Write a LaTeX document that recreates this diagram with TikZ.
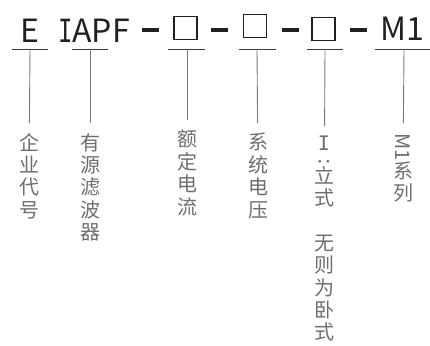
\documentclass[tikz,border=0pt]{standalone}
\usepackage{fontspec}
\setmainfont{Noto Sans CJK SC}
\newfontfamily\slabI{DejaVu Sans Mono}
\definecolor{codeink}{HTML}{231F20}
\definecolor{ulinegray}{HTML}{3C3C3C}
\definecolor{stemgray}{HTML}{7A7A7A}
\definecolor{labelgray}{HTML}{6E6E6E}

\tikzstyle{codepart} = [text=codeink, font=\fontsize{32}{32}\selectfont, inner sep=0pt, anchor=base]
\tikzstyle{dashbar} = [fill=codeink, minimum width=17pt, minimum height=4pt, inner sep=0pt]
\tikzstyle{slot} = [draw=codeink, line width=1.2pt, minimum size=23pt, inner sep=0pt]
\tikzstyle{vlabel} = [text=labelgray, font=\fontsize{20}{22.4}\selectfont, align=center, anchor=north, inner sep=0pt]
\tikzstyle{uline} = [draw=ulinegray, line width=1pt]
\tikzstyle{stem} = [draw=stemgray, line width=0.9pt, shorten >=10pt]

\begin{document}
\begin{tikzpicture}[x=1pt, y=-1pt]
    \useasboundingbox (0,0) rectangle (430,345);
    % model code
	\node (Firm) [codepart] at (30,42) {E};
	\node (Type) [codepart] at (94,42) {\scalebox{0.75}[1]{\slabI I}APF};
	\node (Dash1) [dashbar] at (150,30) {};
	\node (Current) [slot] at (185.5,28) {};
	\node (Dash2) [dashbar] at (219,30) {};
	\node (Voltage) [slot] at (255,26) {};
	\node (Dash3) [dashbar] at (290.5,30) {};
	\node (Mount) [slot] at (323.5,29) {};
	\node (Dash4) [dashbar] at (358,30) {};
	\node (Series) [codepart] at (402,41) {M1};
    % underlines
	\coordinate (uFirm) at (30,49);
	\coordinate (uType) at (90,49);
	\coordinate (uCurrent) at (187,49);
	\coordinate (uVoltage) at (257,49);
	\coordinate (uMount) at (325,49);
	\coordinate (uSeries) at (404,49);
	\draw [uline] ([xshift=-18pt]uFirm) -- ([xshift=18pt]uFirm);
	\draw [uline] ([xshift=-18pt]uType) -- ([xshift=18pt]uType);
	\draw [uline] ([xshift=-19pt]uCurrent) -- ([xshift=18pt]uCurrent);
	\draw [uline] ([xshift=-18pt]uVoltage) -- ([xshift=19pt]uVoltage);
	\draw [uline] ([xshift=-18pt]uMount) -- ([xshift=18pt]uMount);
	\draw [uline] ([xshift=-29pt]uSeries) -- ([xshift=26pt]uSeries);
    % vertical labels
	\node (lFirm) [vlabel] at (29,133) {企\\业\\代\\号};
	\node (lType) [vlabel] at (90,133) {有\\源\\滤\\波\\器};
	\node (lCurrent) [vlabel] at (187,130) {额\\定\\电\\流};
	\node (lVoltage) [vlabel] at (258,133) {系\\统\\电\\压};
	\node (lMount) [vlabel] at (324,136) {{\slabI I}\\[-9pt]\rotatebox{90}{:}\\[-3pt]立\\式\\[22pt]无\\则\\为\\卧\\式};
	\node (lSeries) [vlabel] at (403,133) {\rotatebox{-90}{M1}\\系\\列};
	\draw [stem] (uFirm) -- (lFirm);
	\draw [stem] (uType) -- (lType);
	\draw [stem] (uCurrent) -- (lCurrent);
	\draw [stem] (uVoltage) -- (lVoltage);
	\draw [stem] (uMount) -- (lMount);
	\draw [stem] (uSeries) -- (lSeries);
\end{tikzpicture}
\end{document}
